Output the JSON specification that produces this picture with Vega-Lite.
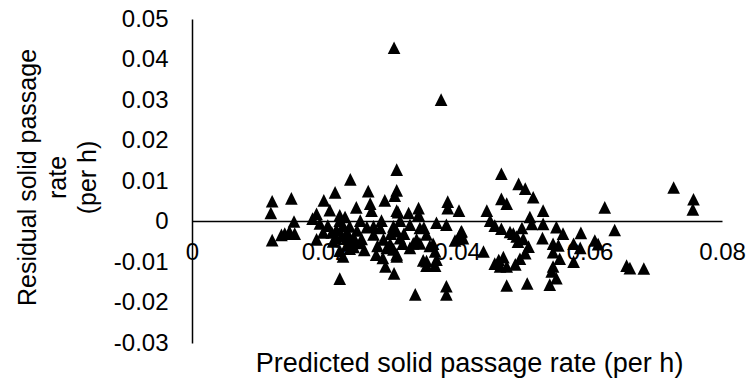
{
  "$schema": "https://vega.github.io/schema/vega-lite/v6.json",
  "autosize": "none",
  "width": 530,
  "height": 324,
  "padding": {"left": 192, "top": 19, "right": 30, "bottom": 38},
  "background": "white",
  "config": {"view": {"stroke": null}, "font": "Liberation Sans"},
  "data": {"values": [
    {"x":0.0121,"y":0.0050},{"x":0.0119,"y":0.0021},{"x":0.0121,"y":-0.0046},{"x":0.0150,"y":0.0057},{"x":0.0154,"y":0.0000},{"x":0.0140,"y":-0.0030},{"x":0.0155,"y":-0.0030},{"x":0.0147,"y":-0.0025},{"x":0.0188,"y":0.0019},{"x":0.0182,"y":0.0007},{"x":0.0199,"y":0.0052},{"x":0.0208,"y":0.0028},{"x":0.0188,"y":-0.0044},{"x":0.0198,"y":-0.0027},{"x":0.0193,"y":-0.0005},{"x":0.0135,"y":-0.0033},
    {"x":0.0216,"y":0.0072},{"x":0.0239,"y":0.0104},{"x":0.0223,"y":0.0015},{"x":0.0223,"y":0.0002},{"x":0.0211,"y":-0.0027},{"x":0.0213,"y":-0.0049},{"x":0.0218,"y":-0.0020},{"x":0.0218,"y":-0.0041},{"x":0.0228,"y":-0.0010},{"x":0.0234,"y":-0.0026},{"x":0.0234,"y":-0.0041},{"x":0.0234,"y":-0.0057},{"x":0.0238,"y":-0.0012},{"x":0.0238,"y":-0.0067},{"x":0.0244,"y":-0.0039},{"x":0.0244,"y":-0.0063},{"x":0.0223,"y":-0.0072},{"x":0.0223,"y":-0.0141},{"x":0.0228,"y":-0.0086},{"x":0.0231,"y":0.0011},{"x":0.0248,"y":0.0035},{"x":0.0249,"y":-0.0022},{"x":0.0205,"y":-0.0010},{"x":0.0226,"y":-0.0035},{"x":0.0243,"y":-0.0049},
    {"x":0.0254,"y":0.0002},{"x":0.0254,"y":-0.0053},{"x":0.0256,"y":-0.0043},{"x":0.0264,"y":-0.0014},{"x":0.0266,"y":0.0075},{"x":0.0269,"y":0.0044},{"x":0.0271,"y":0.0027},{"x":0.0274,"y":-0.0012},{"x":0.0274,"y":-0.0032},{"x":0.0284,"y":-0.0016},{"x":0.0286,"y":0.0002},{"x":0.0289,"y":-0.0044},{"x":0.0291,"y":0.0052},{"x":0.0292,"y":-0.0111},{"x":0.0294,"y":-0.0065},{"x":0.0299,"y":-0.0055},{"x":0.0260,"y":-0.0070},{"x":0.0280,"y":-0.0060},{"x":0.0278,"y":-0.0082},{"x":0.0288,"y":-0.0090},
    {"x":0.0305,"y":0.0429},{"x":0.0309,"y":0.0128},{"x":0.0309,"y":0.0077},{"x":0.0306,"y":0.0064},{"x":0.0311,"y":0.0023},{"x":0.0309,"y":0.0027},{"x":0.0314,"y":0.0002},{"x":0.0304,"y":-0.0012},{"x":0.0309,"y":-0.0024},{"x":0.0314,"y":-0.0041},{"x":0.0304,"y":-0.0069},{"x":0.0309,"y":-0.0081},{"x":0.0309,"y":-0.0086},{"x":0.0305,"y":-0.0128},{"x":0.0327,"y":0.0021},{"x":0.0329,"y":-0.0008},{"x":0.0329,"y":-0.0065},{"x":0.0334,"y":-0.0054},{"x":0.0339,"y":-0.0044},{"x":0.0337,"y":-0.0180},{"x":0.0320,"y":-0.0030},{"x":0.0318,"y":-0.0055},{"x":0.0300,"y":-0.0030},
    {"x":0.0342,"y":0.0033},{"x":0.0342,"y":0.0017},{"x":0.0344,"y":-0.0016},{"x":0.0344,"y":-0.0054},{"x":0.0349,"y":-0.0096},{"x":0.0354,"y":-0.0032},{"x":0.0354,"y":-0.0098},{"x":0.0354,"y":-0.0109},{"x":0.0359,"y":-0.0060},{"x":0.0364,"y":-0.0055},{"x":0.0367,"y":-0.0074},{"x":0.0367,"y":-0.0109},{"x":0.0369,"y":-0.0094},{"x":0.0369,"y":-0.0003},{"x":0.0376,"y":0.0301},{"x":0.0384,"y":-0.0008},{"x":0.0386,"y":0.0049},{"x":0.0386,"y":0.0033},{"x":0.0384,"y":-0.0160},{"x":0.0384,"y":-0.0180},{"x":0.0397,"y":-0.0047},{"x":0.0403,"y":0.0027},{"x":0.0407,"y":-0.0024},{"x":0.0409,"y":-0.0041},{"x":0.0402,"y":-0.0043},{"x":0.0406,"y":-0.0026},{"x":0.0350,"y":-0.0015},
    {"x":0.0445,"y":0.0027},{"x":0.0440,"y":-0.0074},{"x":0.0450,"y":0.0002},{"x":0.0457,"y":-0.0010},{"x":0.0467,"y":-0.0018},{"x":0.0480,"y":-0.0026},{"x":0.0490,"y":-0.0037},{"x":0.0498,"y":-0.0016},{"x":0.0510,"y":0.0011},{"x":0.0513,"y":-0.0006},{"x":0.0500,"y":-0.0043},{"x":0.0508,"y":-0.0062},{"x":0.0503,"y":-0.0078},{"x":0.0495,"y":-0.0092},{"x":0.0488,"y":-0.0106},{"x":0.0470,"y":-0.0088},{"x":0.0457,"y":-0.0104},{"x":0.0465,"y":-0.0111},{"x":0.0475,"y":-0.0111},{"x":0.0475,"y":-0.0158},{"x":0.0506,"y":-0.0153},{"x":0.0467,"y":0.0118},{"x":0.0493,"y":0.0093},{"x":0.0503,"y":0.0081},{"x":0.0515,"y":0.0060},{"x":0.0467,"y":0.0056},{"x":0.0475,"y":0.0044},{"x":0.0485,"y":-0.0030},{"x":0.0463,"y":-0.0095},{"x":0.0492,"y":-0.0050},
    {"x":0.0530,"y":0.0027},{"x":0.0530,"y":-0.0006},{"x":0.0550,"y":-0.0014},{"x":0.0529,"y":-0.0041},{"x":0.0587,"y":-0.0028},{"x":0.0545,"y":-0.0055},{"x":0.0553,"y":-0.0059},{"x":0.0576,"y":-0.0055},{"x":0.0586,"y":-0.0065},{"x":0.0608,"y":-0.0047},{"x":0.0613,"y":-0.0056},{"x":0.0545,"y":-0.0076},{"x":0.0555,"y":-0.0092},{"x":0.0576,"y":-0.0099},{"x":0.0545,"y":-0.0111},{"x":0.0543,"y":-0.0123},{"x":0.0550,"y":-0.0140},{"x":0.0540,"y":-0.0156},{"x":0.0623,"y":0.0035},{"x":0.0638,"y":-0.0021},{"x":0.0656,"y":-0.0109},{"x":0.0661,"y":-0.0115},{"x":0.0682,"y":-0.0116},{"x":0.0560,"y":-0.0030},
    {"x":0.0727,"y":0.0084},{"x":0.0757,"y":0.0055},{"x":0.0756,"y":0.0030}
  ]},
  "mark": {"type": "point", "shape": "M0,-1L1,1L-1,1Z", "size": 160, "filled": true, "color": "black", "opacity": 1},
  "encoding": {
    "x": {
      "field": "x", "type": "quantitative",
      "scale": {"domain": [0, 0.08], "nice": false, "zero": false},
      "axis": {
        "orient": "bottom", "offset": -122,
        "values": [0, 0.02, 0.04, 0.06, 0.08],
        "labelExpr": "datum.value == 0 ? '0' : format(datum.value, '.2f')",
        "grid": false, "ticks": false, "tickSize": 0,
        "domainColor": "black", "domainWidth": 1.5,
        "labelFont": "Liberation Sans", "labelFontSize": 24, "labelColor": "black",
        "labelPadding": 19, "labelOverlap": false, "labelBound": false, "labelFlush": false,
        "title": "Predicted solid passage rate (per h)",
        "titleFont": "Liberation Sans", "titleFontSize": 27, "titleFontWeight": "normal", "titleColor": "black",
        "titleX": 277, "titleY": 150, "titleAlign": "center", "titleBaseline": "alphabetic"
      }
    },
    "y": {
      "field": "y", "type": "quantitative",
      "scale": {"domain": [-0.03, 0.05], "nice": false, "zero": false},
      "axis": {
        "orient": "left",
        "values": [-0.03, -0.02, -0.01, 0, 0.01, 0.02, 0.03, 0.04, 0.05],
        "labelExpr": "datum.value == 0 ? '0' : replace(format(datum.value, '.2f'), '\u2212', '-')",
        "grid": false, "ticks": false, "tickSize": 0,
        "domainColor": "black", "domainWidth": 1.5,
        "labelFont": "Liberation Sans", "labelFontSize": 24, "labelColor": "black",
        "labelPadding": 24, "labelOverlap": false, "labelBound": false, "labelFlush": false,
        "title": ["Residual solid passage", "rate", "(per h)"],
        "titleFont": "Liberation Sans", "titleFontSize": 25, "titleFontWeight": "normal", "titleColor": "black",
        "titleLineHeight": 30, "titleAngle": -90,
        "titleX": -157, "titleY": 158, "titleAlign": "center", "titleBaseline": "alphabetic"
      }
    }
  }
}
